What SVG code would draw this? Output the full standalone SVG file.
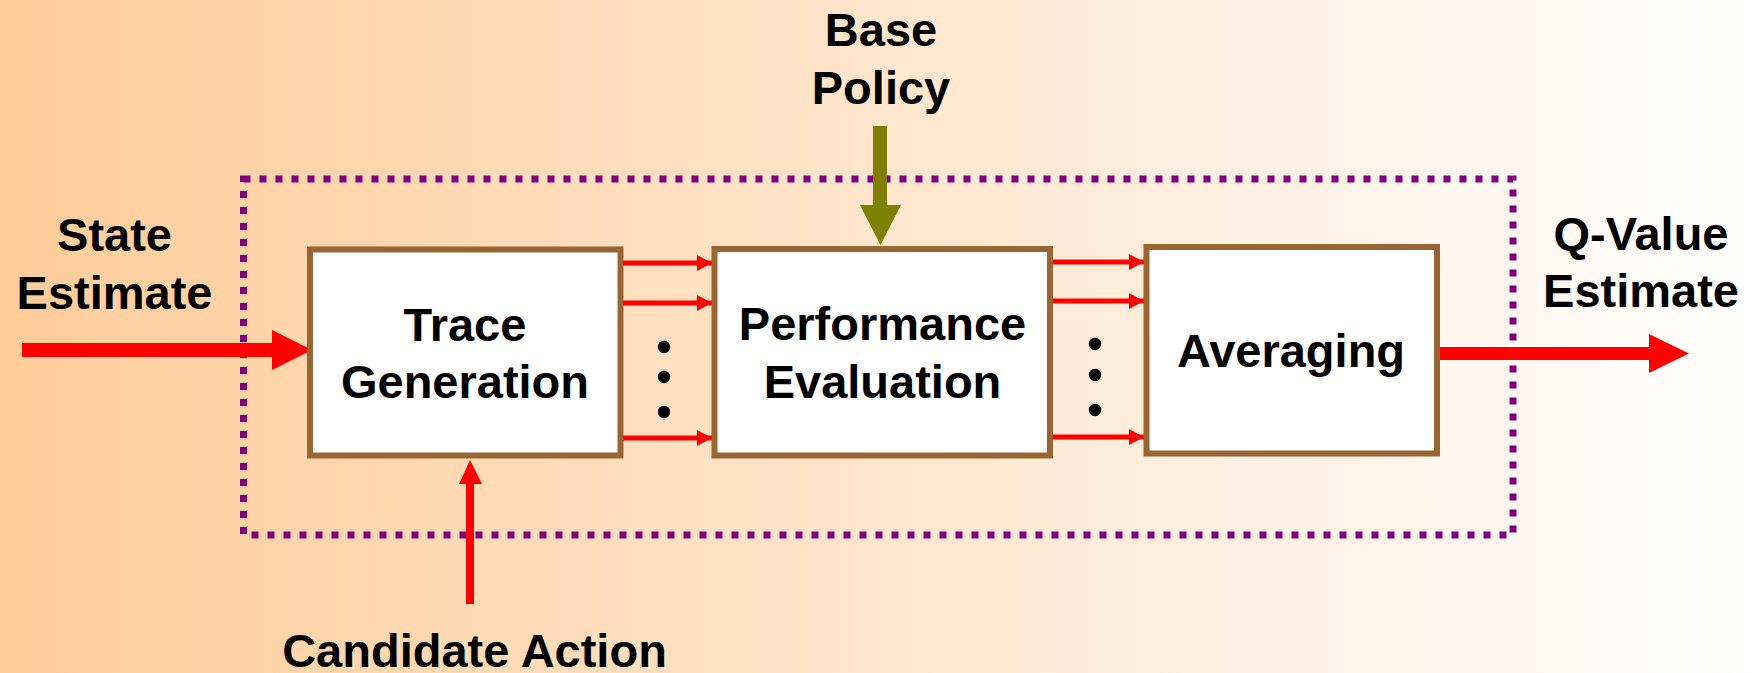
<svg xmlns="http://www.w3.org/2000/svg" width="1758" height="673" viewBox="0 0 1758 673">
  <defs>
    <linearGradient id="bg" x1="0" y1="0" x2="1" y2="0">
      <stop offset="0" stop-color="#FFCC99"/>
      <stop offset="1" stop-color="#FFFFFF"/>
    </linearGradient>
    <marker id="head" markerUnits="userSpaceOnUse" markerWidth="15" markerHeight="16" viewBox="0 0 15 16" refX="15" refY="8" orient="auto">
      <path d="M0,0 L15,8 L0,16 Z" fill="#FF0000"/>
    </marker>
    <style>
      .lbl { font-family: "Liberation Sans", Arial, sans-serif; font-weight: bold; font-size: 47px; fill: #000; text-anchor: middle; }
      .box { fill: #FFFFFF; stroke: #996633; stroke-width: 6; }
      .thin { stroke: #FF0000; stroke-width: 5; fill: none; marker-end: url(#head); }
      .big { fill: #FF0000; }
      .dot { fill: #000; }
    </style>
  </defs>

  <rect width="1758" height="673" fill="url(#bg)"/>

  <!-- rollout boundary -->
  <rect id="boundary" x="243.5" y="179" width="1269.5" height="356" fill="none" stroke="#800080" stroke-width="7" stroke-dasharray="7 9"/>

  <g id="connectors">
    <!-- state estimate input -->
    <polygon class="big" points="22,343 272,343 272,330 312,350 272,370 272,357 22,357"/>
    <!-- base policy input -->
    <polygon fill="#808000" points="873,126 887,126 887,205 901,205 880.5,245 860,205 873,205"/>
    <!-- candidate action input -->
    <polygon class="big" points="466,604 466,484 459,484 470,460 482,484 474,484 474,604"/>
    <!-- Q-value output -->
    <polygon class="big" points="1440,347 1649,347 1649,334 1689,353.5 1649,373 1649,360 1440,360"/>
    <!-- traces to evaluation -->
    <line class="thin" x1="623" y1="263" x2="712" y2="263"/>
    <line class="thin" x1="623" y1="303" x2="712" y2="303"/>
    <line class="thin" x1="623" y1="438" x2="712" y2="438"/>
    <!-- evaluations to averaging -->
    <line class="thin" x1="1053" y1="262" x2="1144" y2="262"/>
    <line class="thin" x1="1053" y1="301" x2="1144" y2="301"/>
    <line class="thin" x1="1053" y1="437" x2="1144" y2="437"/>
    <!-- ellipsis dots -->
    <circle class="dot" cx="664" cy="347" r="6.2"/>
    <circle class="dot" cx="664" cy="377" r="6.2"/>
    <circle class="dot" cx="664" cy="412" r="6.2"/>
    <circle class="dot" cx="1095" cy="344" r="6.2"/>
    <circle class="dot" cx="1095" cy="375" r="6.2"/>
    <circle class="dot" cx="1095" cy="410" r="6.2"/>
  </g>

  <g id="trace-generation">
    <rect class="box" x="310" y="249.5" width="310.5" height="206"/>
    <text class="lbl" x="465" y="341">Trace</text>
    <text class="lbl" x="465" y="398">Generation</text>
  </g>

  <g id="performance-evaluation">
    <rect class="box" x="714.5" y="249" width="335.5" height="206.5"/>
    <text class="lbl" x="882.5" y="340">Performance</text>
    <text class="lbl" x="882.5" y="398">Evaluation</text>
  </g>

  <g id="averaging">
    <rect class="box" x="1146.5" y="247" width="290.5" height="206.5"/>
    <text class="lbl" x="1291" y="367">Averaging</text>
  </g>

  <g id="state-estimate">
    <text class="lbl" x="114.5" y="251">State</text>
    <text class="lbl" x="114.5" y="309">Estimate</text>
  </g>

  <g id="base-policy">
    <text class="lbl" x="881" y="46">Base</text>
    <text class="lbl" x="881" y="104">Policy</text>
  </g>

  <g id="q-value-estimate">
    <text class="lbl" x="1641" y="250">Q-Value</text>
    <text class="lbl" x="1641" y="307">Estimate</text>
  </g>

  <g id="candidate-action">
    <text class="lbl" x="474.5" y="667">Candidate Action</text>
  </g>
</svg>
